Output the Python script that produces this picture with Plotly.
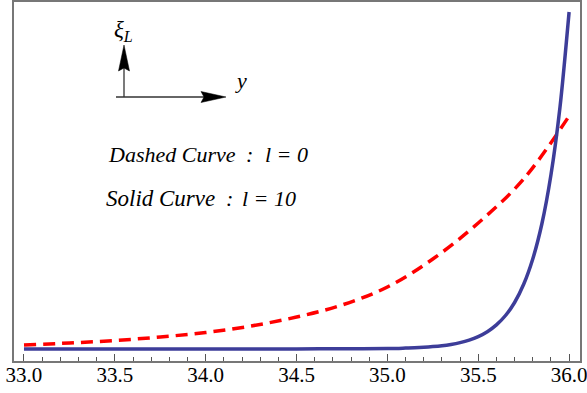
import plotly.graph_objects as go

# ---- data (xi_L in arbitrary units) ----
y_dashed = [33.0, 33.25, 33.5, 33.75, 34.0, 34.25, 34.5, 34.75, 35.0, 35.25, 35.5, 35.75, 36.0]
xi_dashed = [16, 18, 20.5, 24, 28.5, 35, 44, 56, 74, 102, 138, 182, 245]

y_solid = [33.0, 33.25, 33.5, 33.75, 34.0, 34.25, 34.5, 34.75, 35.0, 35.05, 35.1, 35.15,
           35.2, 35.25, 35.3, 35.35, 35.4, 35.45, 35.5, 35.55, 35.6, 35.65, 35.7, 35.75,
           35.8, 35.85, 35.9, 35.95, 36.0]
xi_solid = [12.0, 12.0, 12.0, 12.0, 12.0, 12.0, 12.1, 12.2, 12.5, 12.6, 12.9, 13.2,
            13.7, 14.4, 15.3, 16.6, 18.4, 20.9, 24.4, 29.3, 36.1, 45.5, 58.5, 76.7,
            102, 137, 186, 254, 349]

tick_vals = [33.0, 33.5, 34.0, 34.5, 35.0, 35.5, 36.0]
tick_text = ["33.0", "33.5", "34.0", "34.5", "35.0", "35.5", "36.0"]

W, H = 587, 393
L, R, T, B = 14, 7, 2, 32
PW, PH = W - L - R, H - T - B

def px(xp):
    return (xp - L) / PW

def py(yp):
    return (H - B - yp) / PH

SERIF = "Liberation Serif, Times New Roman, serif"

fig = go.Figure()
fig.add_trace(go.Scatter(x=y_dashed, y=xi_dashed, mode="lines",
                         line=dict(color="#ff0000", width=3.5, dash="12px,7px", shape="spline"),
                         showlegend=False, hoverinfo="skip"))
fig.add_trace(go.Scatter(x=y_solid, y=xi_solid, mode="lines",
                         line=dict(color="#3d3d99", width=3.5, shape="spline", smoothing=0.8),
                         showlegend=False, hoverinfo="skip"))

shapes = []
shapes.append(dict(type="line", xref="paper", yref="paper",
                   x0=px(124), y0=py(97), x1=px(124), y1=py(66),
                   line=dict(color="#333333", width=1.3)))
shapes.append(dict(type="path", xref="paper", yref="paper",
                   path=f"M {px(124)} {py(45)} L {px(118.5)} {py(71)} L {px(124)} {py(68)} L {px(129.5)} {py(71)} Z",
                   fillcolor="black", line=dict(color="black", width=0.5)))
shapes.append(dict(type="line", xref="paper", yref="paper",
                   x0=px(116), y0=py(97), x1=px(206), y1=py(97),
                   line=dict(color="#333333", width=1.3)))
shapes.append(dict(type="path", xref="paper", yref="paper",
                   path=f"M {px(226)} {py(97)} L {px(201)} {py(91.5)} L {px(204)} {py(97)} L {px(201)} {py(102.5)} Z",
                   fillcolor="black", line=dict(color="black", width=0.5)))

anns = []
def txt(x, y, s, size=21, xanchor="left"):
    anns.append(dict(xref="paper", yref="paper", x=px(x), y=py(y), text=s, showarrow=False,
                     xanchor=xanchor, yanchor="middle", font=dict(family=SERIF, size=size, color="black")))

txt(123, 31, "<i>ξ</i><sub><i>L</i></sub>", size=23, xanchor="center")
txt(241, 80, "<i>y</i>", size=22, xanchor="center")
txt(106, 154, "<i>Dashed Curve</i>", size=22)
txt(249, 154, "<i>:</i>", size=22, xanchor="center")
txt(263, 154, "<i>l = 0</i>", size=22)
txt(104, 198, "<i>Solid Curve</i>", size=23)
txt(229, 198, "<i>:</i>", size=22, xanchor="center")
txt(240, 198, "<i>l = 10</i>", size=22)

fig.update_layout(
    width=W, height=H,
    margin=dict(l=L, r=R, t=T, b=B, autoexpand=False),
    paper_bgcolor="white", plot_bgcolor="white",
    font=dict(family=SERIF),
    shapes=shapes, annotations=anns,
    xaxis=dict(range=[32.945, 36.06], tickvals=tick_vals, ticktext=tick_text,
               ticks="inside", ticklen=7, tickwidth=1, tickcolor="#555555",
               minor=dict(dtick=0.1, tick0=33.0, ticks="inside", ticklen=4, tickwidth=1,
                          tickcolor="#555555", showgrid=False),
               showgrid=False, zeroline=False, automargin=False,
               ticklabelstandoff=-6, ticklabeloverflow="allow",
               showline=True, linecolor="#777777", linewidth=1.5, mirror=True,
               tickfont=dict(family=SERIF, size=21, color="black")),
    yaxis=dict(range=[0, 359], showticklabels=False, ticks="", showgrid=False, zeroline=False,
               automargin=False,
               showline=True, linecolor="#777777", linewidth=1.5, mirror=True),
)

fig.write_html("out.html", config={"displayModeBar": False},
               post_script="document.body.style.margin='0';document.body.style.padding='0';")
